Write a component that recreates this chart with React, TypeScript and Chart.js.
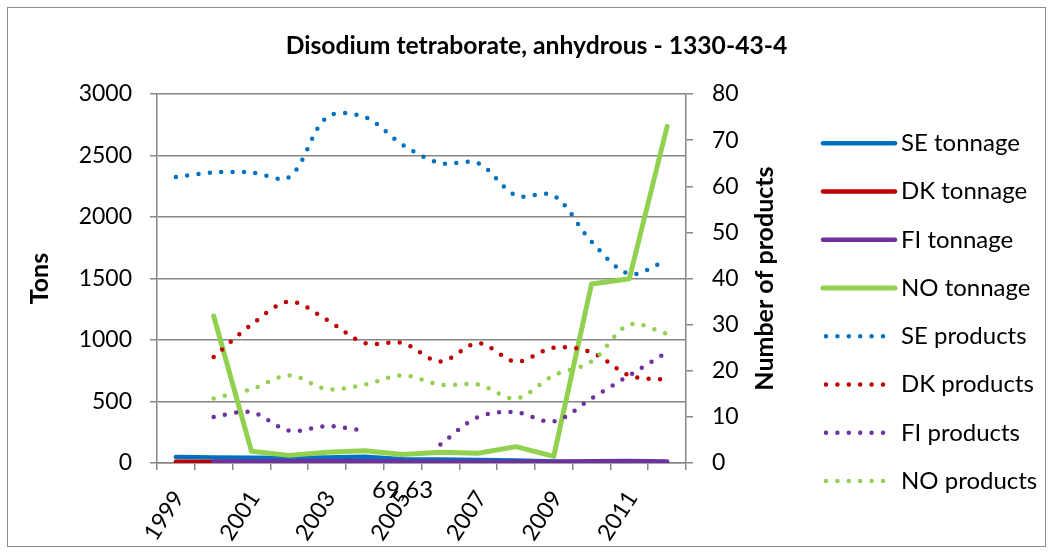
import React, { useEffect, useRef } from 'react';
import { Chart, registerables } from 'chart.js';

Chart.register(...registerables);

const years = ['1999', '2000', '2001', '2002', '2003', '2004', '2005', '2006', '2007', '2008', '2009', '2010', '2011', '2012'];

const seTonnage = [48, 45, 42, 40, 45, 50, 30, 28, 25, 20, 12, 8, 5, 3];
const dkTonnage = [10, 9, 8, 8, 8, 8, 7, 7, 6, 6, 5, 5, 5, null];
const fiTonnage = [null, 10, 12, 14, 16, 14, 12, 10, 10, 10, 10, 14, 16, 12];
const noTonnage = [null, 1195, 95, 62, 87, 100, 69.63, 87, 79, 133, 54, 1455, 1498, 2736];

const seProducts = [62, 63, 63, 62, 75, 75, 69, 65, 65, 58, 58, 48, 41, 44];
const dkProducts = [null, 23, 30, 35, 31, 26, 26, 22, 26, 22, 25, 24, 19, 18];
const fiProducts = [null, 10, 11, 7, 8, 7, null, 4, 10, 11, 9, 14, 19, 24];
const noProducts = [null, 14, 16, 19, 16, 17, 19, 17, 17, 14, 19, 22, 30, 28];

const seriesNames = ['SE tonnage', 'DK tonnage', 'FI tonnage', 'NO tonnage', 'SE products', 'DK products', 'FI products', 'NO products'];
const seriesColors = ['#0070C0', '#C00000', '#7030A0', '#92D050', '#0070C0', '#C00000', '#7030A0', '#92D050'];

const titleText = 'Disodium tetraborate, anhydrous - 1330-43-4';
const leftTitle = 'Tons';
const rightTitle = 'Number of products';
const strayLabel = '69,63';

const FONT = 'Lato, "Open Sans", sans-serif';
const GRID = '#868686';
const DOT = [0, 11.4];

const decorPlugin = {
  id: 'decor',
  beforeDraw(chart: any) {
    const ctx = chart.ctx;
    ctx.save();
    ctx.fillStyle = '#ffffff';
    ctx.fillRect(0, 0, chart.width, chart.height);
    ctx.restore();
  },
  afterDraw(chart: any) {
    const ctx = chart.ctx;
    const area = chart.chartArea;
    ctx.save();
    ctx.strokeStyle = '#8c8c8c';
    ctx.lineWidth = 1;
    ctx.strokeRect(7.5, 7.5, 1038, 539);

    ctx.save();
    ctx.translate(area.right + 79, (area.top + area.bottom) / 2);
    ctx.rotate(-Math.PI / 2);
    ctx.font = `bold 25px ${FONT}`;
    ctx.fillStyle = '#000';
    ctx.textAlign = 'center';
    ctx.textBaseline = 'middle';
    ctx.fillText(rightTitle, 0, 0);
    ctx.restore();

    const xs = chart.scales.x;
    ctx.font = `24px ${FONT}`;
    ctx.fillStyle = '#000';
    ctx.textAlign = 'center';
    ctx.textBaseline = 'middle';
    ctx.fillText(strayLabel, xs.getPixelForValue(6), area.bottom + 27);

    const lx0 = area.right + 137;
    const lx1 = lx0 + 72;
    const ly0 = 143.3;
    const step = 48.25;
    chart.data.datasets.forEach((ds: any, i: number) => {
      const y = ly0 + step * i;
      ctx.save();
      ctx.strokeStyle = ds.borderColor;
      ctx.lineWidth = ds.borderWidth;
      ctx.lineCap = ds.borderCapStyle || 'butt';
      ctx.setLineDash(ds.borderDash || []);
      ctx.beginPath();
      if (ds.borderDash && ds.borderDash.length) {
        ctx.moveTo(lx0 + 3, y);
        ctx.lineTo(lx1 - 8, y);
      } else {
        ctx.moveTo(lx0, y);
        ctx.lineTo(lx1, y);
      }
      ctx.stroke();
      ctx.restore();
      ctx.font = `24px ${FONT}`;
      ctx.fillStyle = '#000';
      ctx.textAlign = 'left';
      ctx.textBaseline = 'middle';
      ctx.fillText(ds.label, lx1 + 6, y);
    });
    ctx.restore();
  },
};

export default function App() {
  const ref = useRef<HTMLCanvasElement | null>(null);

  useEffect(() => {
    if (!ref.current) return;
    const tonnage = [seTonnage, dkTonnage, fiTonnage, noTonnage];
    const products = [seProducts, dkProducts, fiProducts, noProducts];
    const datasets: any[] = [];
    tonnage.forEach((d, i) => {
      datasets.push({
        label: seriesNames[i],
        data: d,
        yAxisID: 'y',
        borderColor: seriesColors[i],
        backgroundColor: seriesColors[i],
        borderWidth: i === 3 ? 5 : 4.5,
        borderCapStyle: 'round',
        borderJoinStyle: 'round',
        pointRadius: 0,
        tension: 0,
        fill: false,
        order: 8 - i,
      });
    });
    products.forEach((d, j) => {
      const i = j + 4;
      datasets.push({
        label: seriesNames[i],
        data: d,
        yAxisID: 'y1',
        borderColor: seriesColors[i],
        backgroundColor: seriesColors[i],
        borderWidth: 4.5,
        borderDash: DOT,
        borderCapStyle: 'round',
        pointRadius: 0,
        tension: 0.33,
        fill: false,
        order: 8 - i,
      });
    });

    const chart = new Chart(ref.current, {
      type: 'line',
      data: { labels: years, datasets },
      plugins: [decorPlugin],
      options: {
        responsive: false,
        animation: false,
        devicePixelRatio: 1,
        layout: { padding: { left: 20, right: 0, top: 0, bottom: 0 } },
        plugins: {
          legend: { display: false },
          tooltip: { enabled: false },
          title: {
            display: true,
            text: titleText,
            color: '#000',
            font: { family: FONT, size: 24.7, weight: 'bold' },
            padding: { top: 31.2, bottom: 33.2 },
          },
        },
        scales: {
          x: {
            type: 'category',
            offset: true,
            grid: { offset: true, drawOnChartArea: false, drawTicks: true, tickLength: 7, color: GRID, lineWidth: 1.5 },
            border: { color: GRID, width: 1.5 },
            ticks: {
              autoSkip: false,
              maxRotation: 57,
              minRotation: 57,
              padding: 16,
              labelOffset: 3,
              color: '#000',
              font: { family: FONT, size: 23 },
              callback: (_v: any, i: number) => (i % 2 === 0 ? years[i] : ''),
            },
            afterFit: (s: any) => { s.height = 91; },
          },
          y: {
            position: 'left',
            min: 0,
            max: 3000,
            grid: { color: GRID, lineWidth: 1.5, tickLength: 7 },
            border: { color: GRID, width: 1.5 },
            ticks: { stepSize: 500, padding: 18, color: '#000', font: { family: FONT, size: 23 }, callback: (v: any) => String(v) },
            title: { display: true, text: leftTitle, color: '#000', font: { family: FONT, size: 25, weight: 'bold' }, padding: { top: 5, bottom: 0 } },
            afterFit: (s: any) => { s.width = 137; },
          },
          y1: {
            position: 'right',
            min: 0,
            max: 80,
            grid: { drawOnChartArea: false, color: GRID, lineWidth: 1.5, tickLength: 7 },
            border: { color: GRID, width: 1.5 },
            ticks: { stepSize: 10, padding: 19, color: '#000', font: { family: FONT, size: 23 }, callback: (v: any) => String(v) },
            afterFit: (s: any) => { s.width = 367; },
          },
        },
      },
    } as any);
    return () => chart.destroy();
  }, []);

  return (
    <div style={{ position: 'fixed', left: 0, top: 0, width: 1053, height: 554, background: '#fff' }}>
      <canvas ref={ref} width={1053} height={554} style={{ display: 'block' }} />
    </div>
  );
}
